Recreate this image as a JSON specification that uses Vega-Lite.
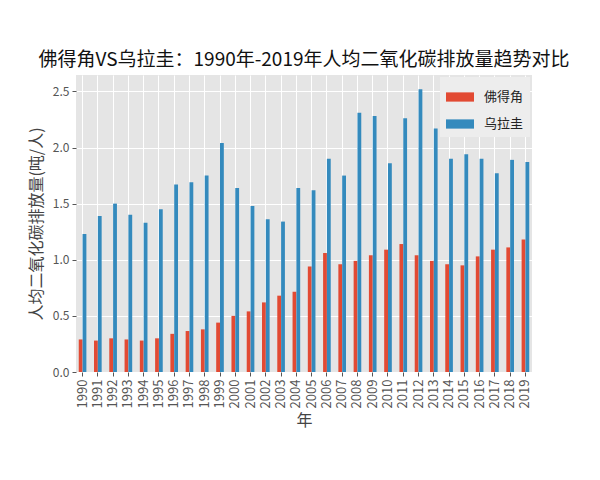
{
  "$schema": "https://vega.github.io/schema/vega-lite/v6.json",
  "autosize": {"type": "none"},
  "width": 456,
  "height": 297,
  "padding": {"left": 76, "top": 75, "right": 68, "bottom": 108},
  "background": "white",
  "config": {
    "font": "Noto Sans CJK SC",
    "view": {"fill": "#E5E5E5", "stroke": null}
  },
  "title": {
    "text": "佛得角VS乌拉圭：1990年-2019年人均二氧化碳排放量趋势对比",
    "fontSize": 19,
    "fontWeight": "normal",
    "color": "#111",
    "anchor": "middle",
    "offset": 5,
    "font": "Noto Sans CJK SC"
  },
  "data": {
    "values": [
      {"year": "1990", "country": "佛得角", "value": 0.29}, {"year": "1990", "country": "乌拉圭", "value": 1.23},
      {"year": "1991", "country": "佛得角", "value": 0.28}, {"year": "1991", "country": "乌拉圭", "value": 1.39},
      {"year": "1992", "country": "佛得角", "value": 0.30}, {"year": "1992", "country": "乌拉圭", "value": 1.50},
      {"year": "1993", "country": "佛得角", "value": 0.29}, {"year": "1993", "country": "乌拉圭", "value": 1.40},
      {"year": "1994", "country": "佛得角", "value": 0.28}, {"year": "1994", "country": "乌拉圭", "value": 1.33},
      {"year": "1995", "country": "佛得角", "value": 0.30}, {"year": "1995", "country": "乌拉圭", "value": 1.45},
      {"year": "1996", "country": "佛得角", "value": 0.34}, {"year": "1996", "country": "乌拉圭", "value": 1.67},
      {"year": "1997", "country": "佛得角", "value": 0.365}, {"year": "1997", "country": "乌拉圭", "value": 1.69},
      {"year": "1998", "country": "佛得角", "value": 0.38}, {"year": "1998", "country": "乌拉圭", "value": 1.75},
      {"year": "1999", "country": "佛得角", "value": 0.44}, {"year": "1999", "country": "乌拉圭", "value": 2.04},
      {"year": "2000", "country": "佛得角", "value": 0.50}, {"year": "2000", "country": "乌拉圭", "value": 1.64},
      {"year": "2001", "country": "佛得角", "value": 0.54}, {"year": "2001", "country": "乌拉圭", "value": 1.48},
      {"year": "2002", "country": "佛得角", "value": 0.62}, {"year": "2002", "country": "乌拉圭", "value": 1.36},
      {"year": "2003", "country": "佛得角", "value": 0.68}, {"year": "2003", "country": "乌拉圭", "value": 1.34},
      {"year": "2004", "country": "佛得角", "value": 0.715}, {"year": "2004", "country": "乌拉圭", "value": 1.64},
      {"year": "2005", "country": "佛得角", "value": 0.94}, {"year": "2005", "country": "乌拉圭", "value": 1.62},
      {"year": "2006", "country": "佛得角", "value": 1.06}, {"year": "2006", "country": "乌拉圭", "value": 1.90},
      {"year": "2007", "country": "佛得角", "value": 0.96}, {"year": "2007", "country": "乌拉圭", "value": 1.75},
      {"year": "2008", "country": "佛得角", "value": 0.99}, {"year": "2008", "country": "乌拉圭", "value": 2.31},
      {"year": "2009", "country": "佛得角", "value": 1.04}, {"year": "2009", "country": "乌拉圭", "value": 2.28},
      {"year": "2010", "country": "佛得角", "value": 1.09}, {"year": "2010", "country": "乌拉圭", "value": 1.86},
      {"year": "2011", "country": "佛得角", "value": 1.14}, {"year": "2011", "country": "乌拉圭", "value": 2.26},
      {"year": "2012", "country": "佛得角", "value": 1.04}, {"year": "2012", "country": "乌拉圭", "value": 2.52},
      {"year": "2013", "country": "佛得角", "value": 0.99}, {"year": "2013", "country": "乌拉圭", "value": 2.17},
      {"year": "2014", "country": "佛得角", "value": 0.96}, {"year": "2014", "country": "乌拉圭", "value": 1.90},
      {"year": "2015", "country": "佛得角", "value": 0.95}, {"year": "2015", "country": "乌拉圭", "value": 1.94},
      {"year": "2016", "country": "佛得角", "value": 1.03}, {"year": "2016", "country": "乌拉圭", "value": 1.90},
      {"year": "2017", "country": "佛得角", "value": 1.09}, {"year": "2017", "country": "乌拉圭", "value": 1.77},
      {"year": "2018", "country": "佛得角", "value": 1.11}, {"year": "2018", "country": "乌拉圭", "value": 1.89},
      {"year": "2019", "country": "佛得角", "value": 1.18}, {"year": "2019", "country": "乌拉圭", "value": 1.87}
    ]
  },
  "mark": {"type": "bar"},
  "encoding": {
    "x": {
      "field": "year",
      "type": "ordinal",
      "title": "年",
      "scale": {"paddingInner": 0.5, "paddingOuter": 0.18},
      "axis": {
        "labelAngle": 270,
        "labelFontSize": 13,
        "labelColor": "#555",
        "labelPadding": 3,
        "titleFontSize": 16,
        "titleFontWeight": "normal",
        "titleColor": "#444",
        "titlePadding": 5,
        "domain": false,
        "grid": true,
        "gridColor": "white",
        "gridWidth": 1,
        "bandPosition": 0.5,
        "tickColor": "#555",
        "tickSize": 4,
        "tickBand": "center"
      }
    },
    "xOffset": {"field": "country", "sort": ["佛得角", "乌拉圭"]},
    "y": {
      "field": "value",
      "type": "quantitative",
      "title": "人均二氧化碳排放量(吨/人)",
      "scale": {"domain": [0, 2.646], "nice": false},
      "axis": {
        "values": [0, 0.5, 1, 1.5, 2, 2.5],
        "format": ".1f",
        "labelFontSize": 12,
        "labelColor": "#555",
        "labelPadding": 3,
        "titleFontSize": 16,
        "titleFontWeight": "normal",
        "titleColor": "#444",
        "titlePadding": 8,
        "domain": false,
        "grid": true,
        "gridColor": "white",
        "gridWidth": 1,
        "tickColor": "#555",
        "tickSize": 4
      }
    },
    "color": {
      "field": "country",
      "type": "nominal",
      "sort": ["佛得角", "乌拉圭"],
      "scale": {"domain": ["佛得角", "乌拉圭"], "range": ["#E24A33", "#348ABD"]},
      "legend": {
        "title": null,
        "orient": "top-right",
        "offset": 2,
        "fillColor": "#EDEDED",
        "padding": 6,
        "symbolType": "M-1,-0.33H1V0.33H-1Z",
        "symbolSize": 784,
        "symbolStrokeWidth": 0,
        "labelFontSize": 13,
        "labelColor": "#222",
        "labelOffset": 10,
        "rowPadding": 6
      }
    }
  }
}
